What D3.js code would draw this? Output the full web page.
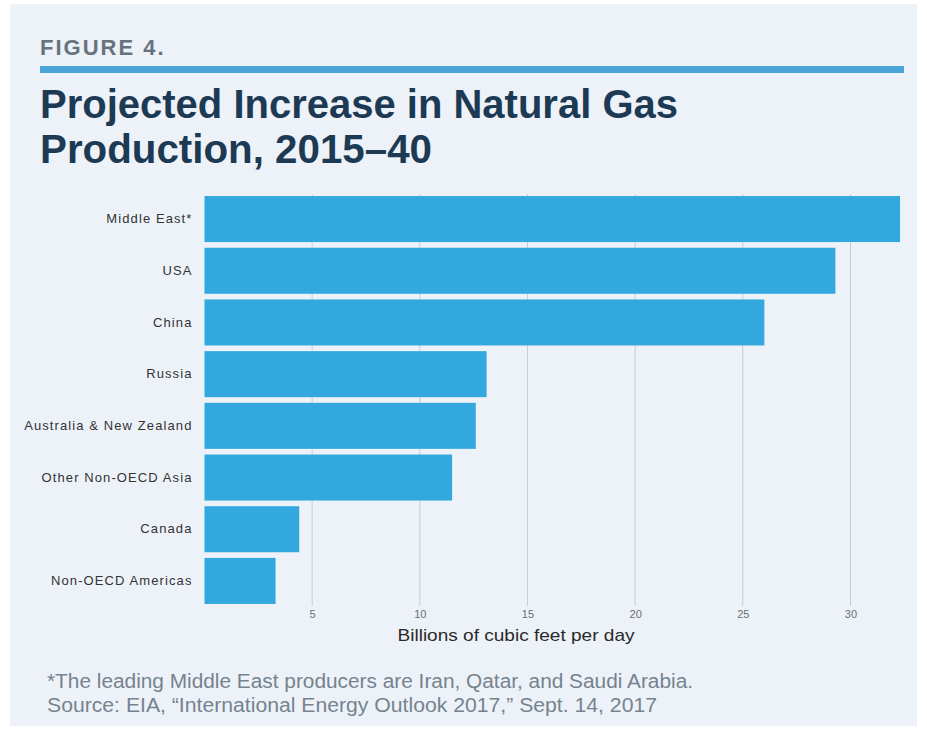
<!DOCTYPE html>
<html><head><meta charset="utf-8">
<script src="https://cdn.jsdelivr.net/npm/d3@7"></script>
<style>
html,body{margin:0;padding:0;background:#fff;}
svg{display:block;}
</style></head>
<body>
<svg id="chart" width="927" height="732"></svg>
<script>
const categories = ["Middle East*","USA","China","Russia","Australia & New Zealand","Other Non-OECD Asia","Canada","Non-OECD Americas"];
const values = [32.3, 29.3, 26.0, 13.1, 12.6, 11.5, 4.4, 3.3];
const tickValues = [5, 10, 15, 20, 25, 30];

const svg = d3.select("#chart");
// panel
svg.append("rect").attr("x",10).attr("y",4).attr("width",907).attr("height",722).attr("fill","#edf2f8");

svg.append("text").attr("x",40).attr("y",55).text("FIGURE 4.")
  .attr("font-family","Liberation Sans, Arial, sans-serif").attr("font-weight","bold")
  .attr("font-size",22).attr("letter-spacing",2).attr("fill","#66737e");
svg.append("rect").attr("x",40).attr("y",66).attr("width",864).attr("height",7).attr("fill","#4ba5d8");

const titleLines = ["Projected Increase in Natural Gas","Production, 2015–40"];
const titleLen = [638, 392];
titleLines.forEach((t,i)=>{
  svg.append("text").attr("x",40).attr("y",118+i*45).text(t)
    .attr("font-family","'Liberation Sans Narrow', 'Liberation Sans', Arial, sans-serif")
    .attr("font-weight","bold").attr("font-size",41).attr("fill","#1d3a55")
    .attr("textLength",titleLen[i]).attr("lengthAdjust","spacingAndGlyphs");
});

const x = d3.scaleLinear().domain([0, 32.3]).range([204.5, 900]);
const y = d3.scaleBand().domain(categories).range([194, 606]).paddingInner(0.11).paddingOuter(0.04);

const g = svg.append("g");
// gridlines
g.selectAll("line.grid").data(tickValues).join("line")
  .attr("x1",d=>x(d)).attr("x2",d=>x(d)).attr("y1",194).attr("y2",606)
  .attr("stroke","#c8cdd3").attr("stroke-width",1);

g.selectAll("rect.bar").data(values).join("rect")
  .attr("x",x(0)).attr("y",(d,i)=>y(categories[i]))
  .attr("width",d=>x(d)-x(0)).attr("height",y.bandwidth())
  .attr("fill","#33a8df");

const xAxis = d3.axisBottom(x).tickValues(tickValues).tickSize(0).tickPadding(0);
const ax = svg.append("g").attr("transform","translate(0,608)").call(xAxis);
ax.select(".domain").remove();
ax.selectAll("text").attr("font-family","Liberation Sans, Arial, sans-serif")
  .attr("font-size",11).attr("fill","#6a6f75").attr("dy","0.9em");

const yAxis = d3.axisLeft(y).tickSize(0).tickPadding(12);
const ay = svg.append("g").attr("transform",`translate(${x(0)},0)`).call(yAxis);
ay.select(".domain").remove();
ay.selectAll("text").attr("font-family","Liberation Sans, Arial, sans-serif")
  .attr("font-size",13).attr("letter-spacing",1.1).attr("fill","#333");

svg.append("text").attr("x",516).attr("y",641).attr("text-anchor","middle")
  .text("Billions of cubic feet per day")
  .attr("font-family","Liberation Sans, Arial, sans-serif").attr("font-size",17).attr("fill","#2a2a2a")
  .attr("textLength",237).attr("lengthAdjust","spacingAndGlyphs");

const notes = ["*The leading Middle East producers are Iran, Qatar, and Saudi Arabia.",
  "Source: EIA, “International Energy Outlook 2017,” Sept. 14, 2017"];
const noteLen = [646, 610];
notes.forEach((t,i)=>{
  svg.append("text").attr("x",47).attr("y",688+i*24).text(t)
    .attr("font-family","'Liberation Sans Narrow', 'Liberation Sans', Arial, sans-serif")
    .attr("font-size",20).attr("fill","#76838f")
    .attr("textLength",noteLen[i]).attr("lengthAdjust","spacingAndGlyphs");
});
</script>
</body></html>
